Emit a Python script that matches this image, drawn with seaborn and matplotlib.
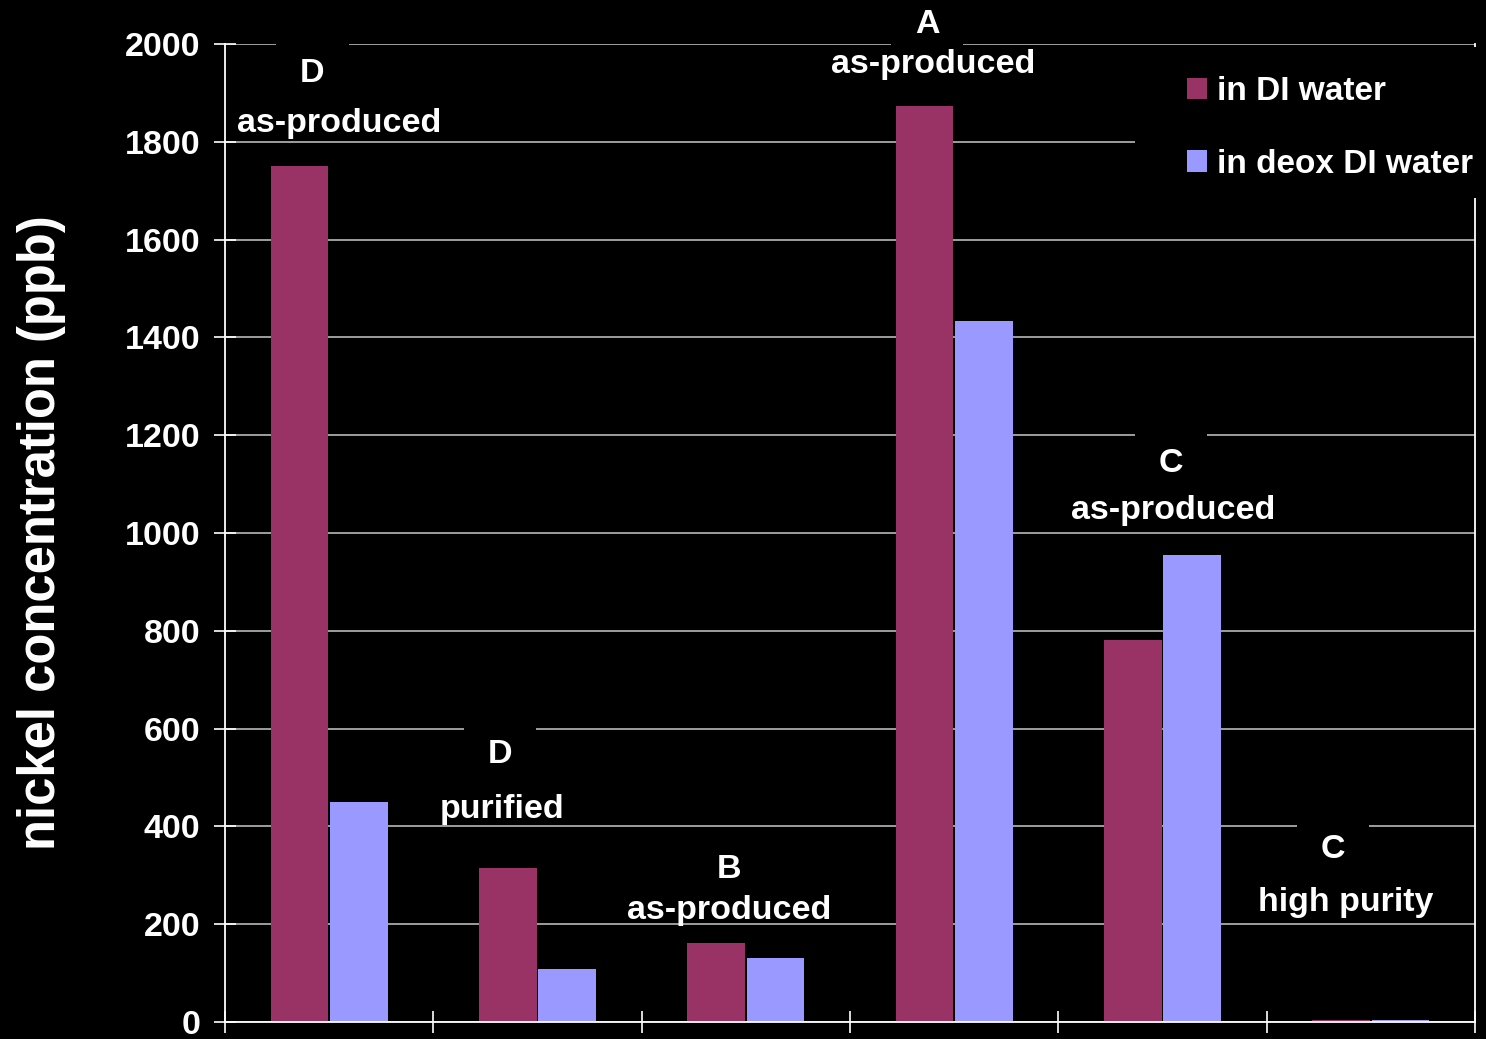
import numpy as np
import pandas as pd
import matplotlib
matplotlib.use("Agg")
import matplotlib.pyplot as plt
from matplotlib.patches import Rectangle, Patch
import seaborn as sns

# Nickel released from each sample, ppb
samples = ["D as-produced", "D purified", "B as-produced",
           "A as-produced", "C as-produced", "C high purity"]
in_di_water = [1750, 315, 162, 1873, 782, 4]
in_deox_di_water = [450, 109, 131, 1433, 955, 4]
series_names = ["in DI water", "in deox DI water"]

# Two-line label above each group: sample letter, then its state
sample_letters = ["D", "D", "B", "A", "C", "C"]
sample_states = ["as-produced", "purified", "as-produced",
                 "as-produced", "as-produced", "high purity"]

y_ticks = [0, 200, 400, 600, 800, 1000, 1200, 1400, 1600, 1800, 2000]
y_title = "nickel concentration (ppb)"

# label placement (x offset from group centre, y in data units)
letter_pos = [(-0.08, 1940), (-0.18, 547), (-0.08, 311),
              (-0.13, 2039), (0.04, 1143), (-0.18, 352)]
state_pos = [(0.05, 1837), (-0.17, 434), (-0.08, 229),
             (-0.10, 1958), (0.05, 1047), (-0.12, 245)]

df = pd.DataFrame({
    "sample": samples * 2,
    "series": [series_names[0]] * len(samples) + [series_names[1]] * len(samples),
    "ppb": in_di_water + in_deox_di_water,
})

sns.set_theme(style="dark")
plt.rcParams["font.family"] = ["Liberation Sans", "DejaVu Sans"]
plt.rcParams["font.weight"] = "bold"

W, H = 1486, 1039
fig = plt.figure(figsize=(W / 100, H / 100), dpi=100, facecolor="black")
ax = fig.add_axes([225 / W, 1 - 1022 / H, 1250 / W, (1022 - 44) / H])
ax.set_facecolor("black")

palette = {series_names[0]: "#993366", series_names[1]: "#9999FF"}
sns.barplot(data=df, x="sample", y="ppb", hue="series", order=samples,
            hue_order=series_names, palette=palette, width=0.57, gap=0.03,
            saturation=1, edgecolor="none", linewidth=0, ax=ax, legend=False)

FS = 24.5
ax.set_xlim(-0.5, len(samples) - 0.5)
ax.set_ylim(0, 2000)
ax.set_yticks(y_ticks)
ax.set_yticklabels([str(v) for v in y_ticks], fontsize=FS, fontweight="bold", color="white")
ax.set_xticks(np.arange(-0.5, len(samples), 1.0))
ax.set_xticklabels([])
ax.set_xlabel("")
ax.set_ylabel(y_title, fontsize=36.5, fontweight="bold", color="white")
ax.yaxis.set_label_coords(-0.127, 0.5)

ax.tick_params(axis="both", which="major", direction="inout", length=16, width=1.2,
               color="white", left=True, bottom=True, right=False, top=False)
ax.tick_params(axis="y", pad=10)
ax.set_axisbelow(True)
ax.grid(False)
ax.yaxis.grid(True, color="#c8c8c8", linewidth=1.1)

for side in ["left", "bottom", "right"]:
    ax.spines[side].set_visible(True)
    ax.spines[side].set_color("white")
    ax.spines[side].set_linewidth(1.3)
ax.spines["top"].set_visible(False)

for i in range(len(samples)):
    lx, ly = letter_pos[i]
    ax.text(i + lx, ly, sample_letters[i], ha="center", va="center",
            fontsize=FS, fontweight="bold", color="white", clip_on=False, zorder=6,
            bbox=dict(boxstyle="square,pad=0.7", fc="black", ec="none"))
    sx, sy = state_pos[i]
    ax.text(i + sx, sy, sample_states[i], ha="center", va="center",
            fontsize=FS, fontweight="bold", color="white", clip_on=False, zorder=7)

# black panel behind the legend
ax.add_patch(Rectangle((1135 / W, 1 - 198 / H), 350 / W, 151 / H,
                       transform=fig.transFigure, fc="black", ec="none",
                       clip_on=False, zorder=4))
handles = [Patch(facecolor=palette[s], edgecolor="none") for s in series_names]
leg = ax.legend(handles, series_names, loc="upper left",
                bbox_to_anchor=(1187 / W, 1 - 76 / H), bbox_transform=fig.transFigure,
                frameon=False, fontsize=24, labelcolor="white",
                handlelength=0.6, handleheight=0.6, handletextpad=0.3,
                labelspacing=1.25, borderpad=0, borderaxespad=0)
leg.set_zorder(8)
for t in leg.get_texts():
    t.set_fontweight("bold")

fig.savefig("out.png", dpi=100, facecolor="black")
